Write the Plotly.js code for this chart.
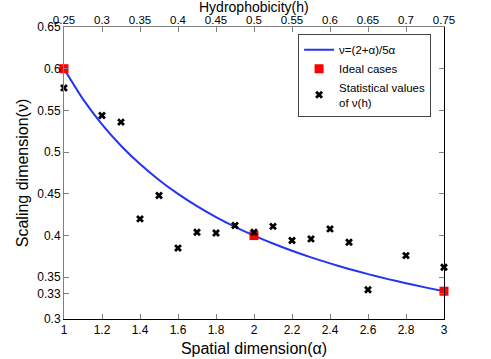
<!DOCTYPE html>
<html>
<head>
<meta charset="utf-8">
<script src="https://cdn.plot.ly/plotly-3.0.1.min.js"></script>
<style>
  body { margin: 0; background: #fff; }
  #chart { width: 491px; height: 359px; }
</style>
</head>
<body>
<div id="chart"></div>
<script>
  // curve nu=(2+a)/5a
  var curveAlpha = [1, 1.1, 1.2, 1.3, 1.4, 1.5, 1.6, 1.7, 1.8, 1.9, 2, 2.1, 2.2, 2.3, 2.4, 2.5, 2.6, 2.7, 2.8, 2.9, 3];
  var curveNu = [0.6, 0.5636, 0.5333, 0.5077, 0.4857, 0.4667, 0.45, 0.4353, 0.4222, 0.4105, 0.4,
                 0.3905, 0.3818, 0.3739, 0.3667, 0.36, 0.3538, 0.3481, 0.3429, 0.3379, 0.3333];

  var idealAlpha = [1, 2, 3];
  var idealNu = [0.6, 0.4, 0.3333];

  var statAlpha = [1, 1.2, 1.3, 1.4, 1.5, 1.6, 1.7, 1.8, 1.9, 2, 2.1, 2.2, 2.3, 2.4, 2.5, 2.6, 2.8, 3];
  var statNu = [0.577, 0.544, 0.536, 0.42, 0.448, 0.385, 0.404, 0.403, 0.412, 0.404, 0.411,
                0.394, 0.396, 0.408, 0.392, 0.335, 0.376, 0.362];

  var yTicks = [0.3, 0.33, 0.35, 0.4, 0.45, 0.5, 0.55, 0.6, 0.65];
  var yTickText = ['0.3', '0.33', '0.35', '0.4', '0.45', '0.5', '0.55', '0.6', '0.65'];
  var xTicks = [1, 1.2, 1.4, 1.6, 1.8, 2, 2.2, 2.4, 2.6, 2.8, 3];
  var hTicks = [0.25, 0.3, 0.35, 0.4, 0.45, 0.5, 0.55, 0.6, 0.65, 0.7, 0.75];
  var hTickText = ['0.25', '0.3', '0.35', '0.4', '0.45', '0.5', '0.55', '0.6', '0.65', '0.7', '0.75'];

  var gray = '#808080';
  var fnt = {family: 'Liberation Sans, Arial, sans-serif', size: 12, color: '#000'};

  var traces = [
    {
      type: 'scatter', mode: 'lines', name: '\u03bd=(2+\u03b1)/5\u03b1',
      x: curveAlpha, y: curveNu,
      line: {color: '#2135f5', width: 2, shape: 'spline', smoothing: 0.6}
    },
    {
      type: 'scatter', mode: 'markers', name: 'Ideal cases',
      x: idealAlpha, y: idealNu, cliponaxis: false,
      marker: {symbol: 'square', color: '#ff0000', size: 9}
    },
    {
      type: 'scatter', mode: 'markers', name: 'Statistical values<br>of \u03bd(h)',
      x: statAlpha, y: statNu, cliponaxis: false,
      marker: {symbol: 'x', color: '#000', size: 7}
    },
    {
      // carries the top and right axes
      type: 'scatter', mode: 'markers', showlegend: false, hoverinfo: 'skip',
      x: [hTicks[0], hTicks[hTicks.length - 1]], y: [0.3, 0.65],
      xaxis: 'x2', yaxis: 'y2',
      marker: {opacity: 0}
    }
  ];

  var layout = {
    width: 491, height: 359,
    margin: {l: 64, r: 47, t: 27, b: 40},
    paper_bgcolor: '#fff', plot_bgcolor: '#fff',
    font: fnt,
    showlegend: true,
    legend: {
      x: 0.966, y: 0.975, xanchor: 'right', yanchor: 'top',
      bgcolor: '#fff', bordercolor: '#444', borderwidth: 1,
      font: {family: fnt.family, size: 11.5, color: '#000'},
      tracegroupgap: 0
    },
    xaxis: {
      range: [1, 3], tickvals: xTicks, ticktext: xTicks.map(String),
      showgrid: false, zeroline: false,
      showline: true, linecolor: '#000', linewidth: 1,
      ticks: 'inside', ticklen: 5, tickcolor: gray,
      tickfont: fnt,
      title: {text: 'Spatial dimension(\u03b1)', font: {family: fnt.family, size: 16}, standoff: 6}
    },
    xaxis2: {
      overlaying: 'x', side: 'top', anchor: 'y2',
      range: [0.25, 0.75], tickvals: hTicks, ticktext: hTickText,
      showgrid: false, zeroline: false,
      showline: true, linecolor: gray, linewidth: 1,
      ticks: 'inside', ticklen: 5, tickcolor: gray,
      ticklabelstandoff: -3,
      tickfont: {family: fnt.family, size: 11.5, color: '#000'}
    },
    yaxis: {
      range: [0.3, 0.65], tickvals: yTicks, ticktext: yTickText,
      showgrid: false, zeroline: false,
      showline: true, linecolor: gray, linewidth: 1,
      ticks: 'inside', ticklen: 5, tickcolor: gray,
      tickfont: fnt,
      title: {text: 'Scaling dimension(\u03bd)', font: {family: fnt.family, size: 16}, standoff: 4}
    },
    yaxis2: {
      overlaying: 'y', side: 'right', anchor: 'x2',
      range: [0.3, 0.65], tickvals: yTicks, showticklabels: false,
      showgrid: false, zeroline: false,
      showline: true, linecolor: '#000', linewidth: 1,
      ticks: 'inside', ticklen: 5, tickcolor: gray
    },
    annotations: [{
      text: 'Hydrophobicity(h)', xref: 'paper', yref: 'paper',
      x: 0.5, y: 1, xanchor: 'center', yanchor: 'bottom', yshift: 10,
      showarrow: false, font: {family: fnt.family, size: 14, color: '#000'}
    }]
  };

  var config = {displayModeBar: false, staticPlot: true};

  Plotly.newPlot('chart', traces, layout, config);
</script>
</body>
</html>
